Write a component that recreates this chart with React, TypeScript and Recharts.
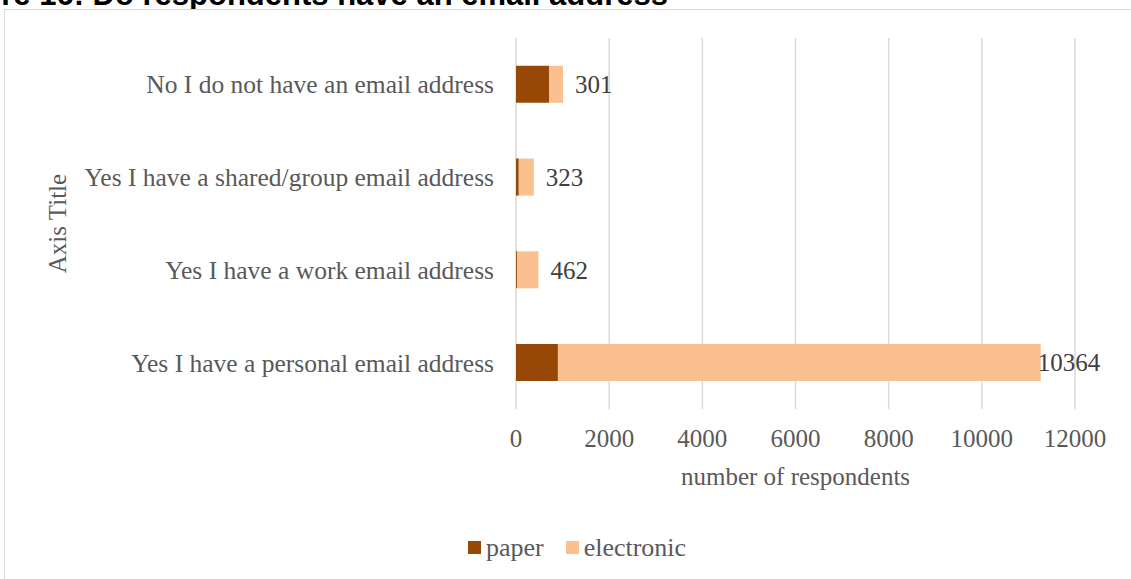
import React from "react";
import { Bar, BarChart, CartesianGrid, Label, LabelList, Legend, XAxis, YAxis } from "recharts";

const categories = [
  "No I do not have an email address",
  "Yes I have a shared/group email address",
  "Yes I have a work email address",
  "Yes I have a personal email address",
];
const paper = [708, 60, 20, 900];
const electronic = [301, 323, 462, 10364];
const xTicks = [0, 2000, 4000, 6000, 8000, 10000, 12000];

const seriesNames = ["paper", "electronic"];
const seriesColors = ["#974706", "#FAC090"];

const rows = categories.map((name, i) => ({ name, paper: paper[i], electronic: electronic[i] }));

const FONT = '"Liberation Serif", serif';
const GREY = "#595959";

function ValueLabel(props: any) {
  const { x, y, width, height, value } = props;
  // the long bar's label sits right on its end, like in the original
  const lx = value > 5000 ? x + width - 3 : x + width + 12;
  return (
    <text x={lx} y={y + height / 2} dy="0.35em" fill="#404040" fontSize={25} fontFamily={FONT}>
      {value}
    </text>
  );
}

function LegendBox() {
  return (
    <div style={{ display: "flex", justifyContent: "center", alignItems: "center", gap: 22 }}>
      {seriesNames.map((n, i) => (
        <div key={n} style={{ display: "flex", alignItems: "center" }}>
          <span style={{ display: "inline-block", width: 13, height: 13, background: seriesColors[i], marginRight: 5 }} />
          <span style={{ color: GREY, fontSize: 26, fontFamily: FONT, lineHeight: "29px" }}>{n}</span>
        </div>
      ))}
    </div>
  );
}

export default function App() {
  return (
    <div style={{ position: "fixed", left: 0, top: 0, width: 1131, height: 579, overflow: "hidden", background: "#fff" }}>
      <svg width={1131} height={20} style={{ position: "absolute", left: 0, top: 0 }}>
        <text x={668} y={4.5} textAnchor="end" fontSize={31} fontWeight="bold" fontFamily='"Liberation Sans", Arial, sans-serif' fill="#000">
          Figure 16: Do respondents have an email address
        </text>
      </svg>
      <div
        style={{
          position: "absolute",
          left: 4,
          top: 9,
          width: 1200,
          height: 600,
          border: "1px solid #d9d9d9",
          background: "#fff",
        }}
      />
      <div style={{ position: "absolute", left: 0, top: 0 }}>
        <BarChart
          width={1154}
          height={579}
          data={rows}
          layout="vertical"
          barCategoryGap="30%"
          margin={{ top: 38, right: 79, left: 0, bottom: 17 }}
        >
          <CartesianGrid horizontal={false} stroke="#d9d9d9" strokeWidth={1.5} />
          <XAxis
            type="number"
            domain={[0, 12000]}
            ticks={xTicks}
            axisLine={false}
            tickLine={false}
            tickSize={0}
            tickMargin={20}
            height={124}
            tick={{ fill: GREY, fontSize: 25, fontFamily: FONT }}
          >
            <Label value="number of respondents" position="insideTop" offset={58} fill={GREY} fontSize={25} fontFamily={FONT} />
          </XAxis>
          <YAxis
            type="category"
            dataKey="name"
            width={516}
            axisLine={false}
            tickLine={false}
            tickSize={0}
            tickMargin={22}
            tick={{ fill: GREY, fontSize: 25.5, fontFamily: FONT }}
          >
            <Label
              value="Axis Title"
              angle={-90}
              position="insideLeft"
              offset={57}
              fill={GREY}
              fontSize={25}
              fontFamily={FONT}
              style={{ textAnchor: "middle" }}
            />
          </YAxis>
          <Legend verticalAlign="bottom" content={<LegendBox />} wrapperStyle={{ left: 0, width: 1154 }} />
          <Bar dataKey="paper" name="paper" stackId="a" fill={seriesColors[0]} isAnimationActive={false} />
          <Bar dataKey="electronic" name="electronic" stackId="a" fill={seriesColors[1]} isAnimationActive={false}>
            <LabelList dataKey="electronic" content={ValueLabel} />
          </Bar>
        </BarChart>
      </div>
    </div>
  );
}
